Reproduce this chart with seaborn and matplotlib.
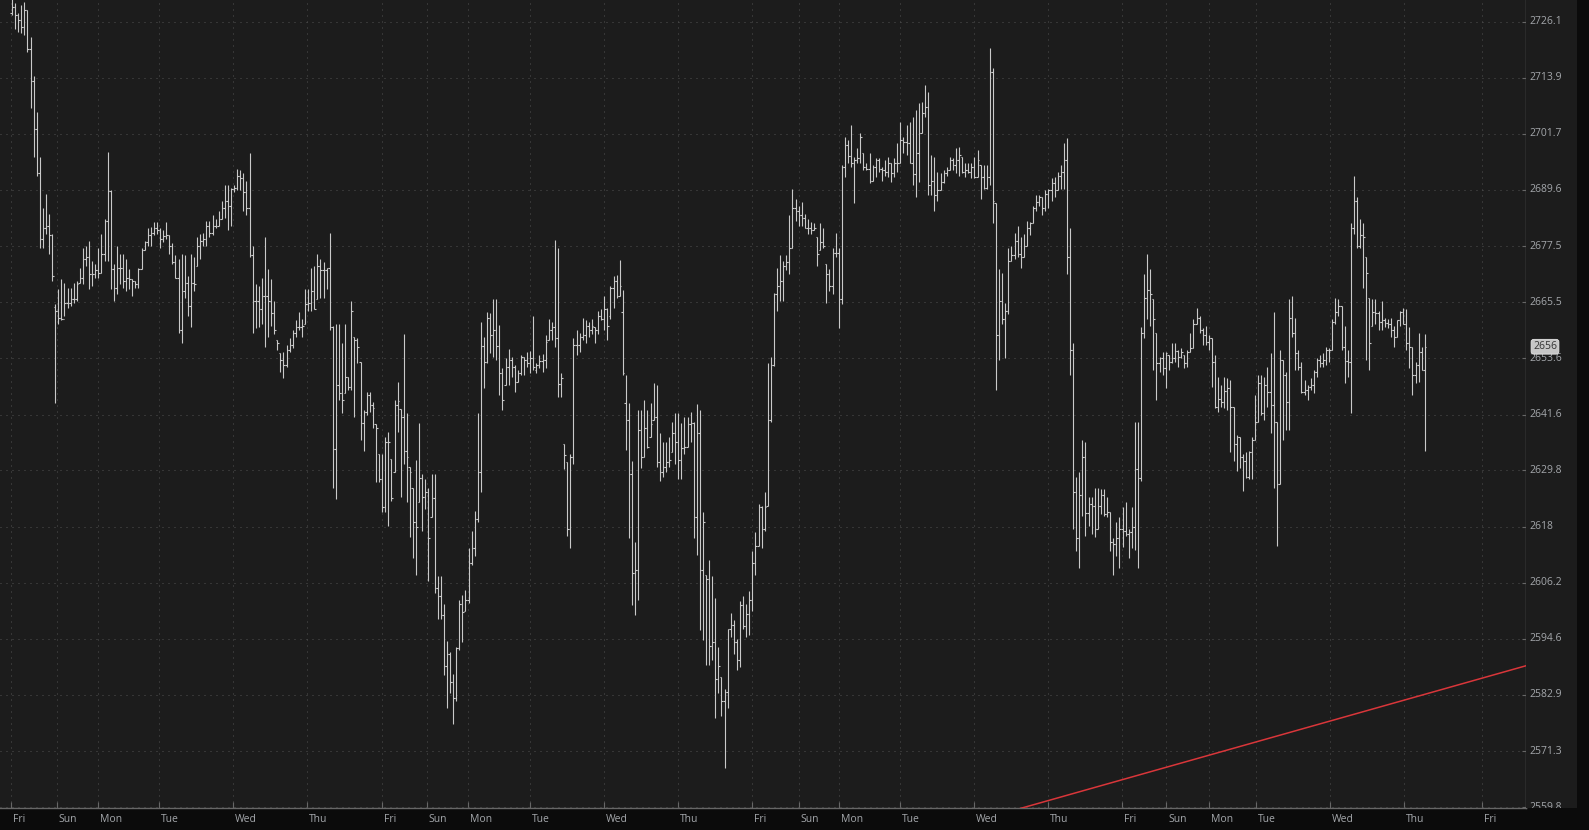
import matplotlib
matplotlib.use("Agg")
import matplotlib.pyplot as plt
import matplotlib.transforms as mtransforms
from matplotlib.ticker import FixedLocator, NullLocator, NullFormatter
import numpy as np
import seaborn as sns

# hourly OHLC bars
highs = [
    2733.0, 2730.1, 2728.0, 2729.7, 2730.4, 2728.6, 2722.7, 2714.2, 2706.4, 2696.6,
    2685.8, 2688.8, 2684.5, 2680.2, 2665.2, 2668.4, 2670.5, 2669.6, 2668.6, 2668.6,
    2669.6, 2670.1, 2672.9, 2677.0, 2677.6, 2678.7, 2674.4, 2673.7, 2677.0, 2680.2,
    2683.4, 2697.7, 2689.5, 2673.7, 2677.6, 2675.9, 2675.9, 2674.8, 2672.7, 2670.5,
    2670.1, 2672.9, 2677.2, 2678.7, 2681.5, 2681.7, 2682.6, 2682.6, 2681.5, 2680.9,
    2682.6, 2679.8, 2678.1, 2675.5, 2674.8, 2675.9, 2675.5, 2671.2, 2675.9, 2675.1,
    2679.4, 2680.2, 2680.4, 2683.0, 2683.0, 2684.1, 2683.4, 2685.1, 2687.3, 2690.6,
    2690.6, 2690.1, 2690.6, 2694.2, 2693.8, 2693.2, 2691.6, 2697.5, 2677.6, 2669.4,
    2669.0, 2670.7, 2679.4, 2672.7, 2670.5, 2665.8, 2657.4, 2654.6, 2654.8, 2656.3,
    2657.8, 2659.5, 2661.6, 2663.3, 2662.0, 2668.4, 2668.4, 2672.9, 2673.3, 2675.9,
    2674.8, 2674.0, 2672.9, 2680.4, 2660.5, 2660.9, 2660.9, 2656.7, 2660.9, 2649.6,
    2665.8, 2658.0, 2657.8, 2652.7, 2642.6, 2646.4, 2646.4, 2644.3, 2639.5, 2633.2,
    2633.2, 2636.9, 2638.0, 2632.3, 2644.7, 2648.5, 2642.8, 2658.8, 2642.0, 2630.6,
    2626.2, 2632.1, 2639.9, 2629.0, 2627.9, 2626.2, 2629.0, 2629.0, 2607.6, 2607.6,
    2601.7, 2594.1, 2591.8, 2587.3, 2592.9, 2602.7, 2603.7, 2604.8, 2613.4, 2617.1,
    2621.2, 2642.0, 2661.2, 2658.0, 2663.3, 2663.1, 2666.2, 2666.2, 2660.7, 2651.5,
    2653.6, 2655.5, 2653.8, 2652.1, 2651.0, 2654.2, 2653.8, 2654.8, 2655.0, 2662.6,
    2652.5, 2654.2, 2654.4, 2658.4, 2662.0, 2661.2, 2678.9, 2677.0, 2650.4, 2635.3,
    2631.5, 2633.2, 2657.8, 2659.5, 2659.0, 2662.2, 2661.6, 2661.2, 2662.0, 2660.1,
    2663.7, 2664.1, 2666.9, 2664.3, 2669.0, 2671.2, 2671.4, 2674.6, 2668.0, 2650.0,
    2644.1, 2631.7, 2614.8, 2642.6, 2642.6, 2644.7, 2642.6, 2644.1, 2648.3, 2647.9,
    2637.8, 2635.9, 2635.7, 2636.9, 2640.1, 2642.0, 2642.0, 2639.9, 2641.1, 2641.1,
    2642.2, 2640.0, 2643.9, 2642.6, 2621.0, 2607.9, 2611.0, 2607.6, 2603.1, 2592.9,
    2586.7, 2584.2, 2596.5, 2600.0, 2598.4, 2594.5, 2602.5, 2603.5, 2601.7, 2604.6,
    2612.8, 2616.9, 2622.7, 2622.3, 2625.2, 2652.5, 2653.8, 2667.5, 2672.9, 2675.5,
    2674.4, 2675.5, 2684.1, 2689.9, 2687.7, 2686.2, 2686.9, 2684.5, 2683.4, 2682.6,
    2682.4, 2679.4, 2682.4, 2681.5, 2673.7, 2672.7, 2677.0, 2680.4, 2677.2, 2694.9,
    2701.0, 2700.3, 2703.6, 2696.6, 2698.6, 2702.0, 2697.5, 2695.5, 2697.5, 2694.9,
    2696.4, 2696.4, 2694.5, 2696.0, 2696.6, 2695.5, 2696.4, 2699.7, 2704.2, 2701.0,
    2703.6, 2704.2, 2705.3, 2706.8, 2708.3, 2708.6, 2712.2, 2710.7, 2697.1, 2696.6,
    2693.4, 2693.2, 2693.8, 2694.5, 2696.6, 2696.4, 2698.6, 2698.8, 2696.6, 2695.3,
    2695.3, 2695.3, 2696.6, 2698.2, 2694.9, 2694.9, 2694.9, 2720.3, 2715.9, 2686.7,
    2672.7, 2671.8, 2665.4, 2677.2, 2677.6, 2680.4, 2681.9, 2679.4, 2680.2, 2683.0,
    2682.6, 2686.2, 2688.4, 2688.4, 2688.0, 2689.5, 2689.9, 2692.1, 2692.3, 2693.4,
    2694.9, 2699.7, 2700.8, 2681.5, 2656.7, 2628.5, 2629.4, 2636.3, 2635.9, 2624.1,
    2624.1, 2626.2, 2626.2, 2625.8, 2625.8, 2624.3, 2621.0, 2615.5, 2619.0, 2620.0,
    2622.1, 2623.1, 2617.5, 2622.1, 2640.1, 2640.1, 2660.1, 2671.6, 2675.9, 2672.7,
    2666.2, 2659.0, 2653.8, 2654.8, 2654.8, 2654.2, 2656.9, 2656.7, 2655.3, 2655.7,
    2654.2, 2655.3, 2659.0, 2662.0, 2664.3, 2662.6, 2659.9, 2660.5, 2658.4, 2657.8,
    2654.2, 2649.6, 2647.9, 2649.6, 2649.3, 2648.9, 2643.2, 2637.3, 2636.9, 2633.2,
    2633.6, 2633.8, 2636.9, 2645.8, 2650.0, 2650.0, 2649.6, 2651.7, 2654.6, 2663.3,
    2640.0, 2655.3, 2653.1, 2650.6, 2666.2, 2666.9, 2662.2, 2655.3, 2652.7, 2648.9,
    2647.9, 2649.3, 2651.0, 2653.6, 2654.2, 2654.6, 2655.9, 2655.7, 2662.0, 2666.4,
    2666.2, 2664.7, 2660.5, 2655.3, 2682.4, 2692.7, 2688.0, 2683.4, 2682.4, 2675.1,
    2666.4, 2666.2, 2666.2, 2663.7, 2665.8, 2662.2, 2662.0, 2662.2, 2660.5, 2661.6,
    2663.7, 2664.3, 2664.1, 2660.1, 2655.9, 2652.7, 2659.0, 2655.9, 2658.8,
]
lows = [
    2727.5, 2724.5, 2723.8, 2723.6, 2723.2, 2719.4, 2707.3, 2696.6, 2692.7, 2677.2,
    2677.0, 2680.2, 2675.9, 2670.1, 2644.1, 2660.9, 2661.6, 2662.6, 2664.3, 2664.7,
    2665.4, 2665.8, 2669.6, 2669.4, 2673.3, 2668.4, 2669.0, 2670.7, 2670.7, 2671.8,
    2674.4, 2674.4, 2668.4, 2665.8, 2667.3, 2669.4, 2668.6, 2667.9, 2668.4, 2666.9,
    2668.6, 2668.6, 2672.7, 2676.6, 2677.6, 2677.6, 2679.8, 2680.2, 2677.0, 2678.3,
    2679.1, 2675.9, 2673.7, 2670.7, 2659.0, 2656.7, 2666.4, 2662.6, 2660.1, 2667.9,
    2673.3, 2674.8, 2677.6, 2677.6, 2679.4, 2679.8, 2681.3, 2681.9, 2683.4, 2683.6,
    2680.9, 2681.9, 2689.1, 2689.5, 2689.5, 2685.1, 2684.1, 2675.1, 2659.0, 2659.9,
    2660.1, 2660.9, 2655.9, 2658.0, 2660.5, 2658.8, 2655.3, 2650.6, 2649.3, 2651.7,
    2654.8, 2655.7, 2658.0, 2659.5, 2658.0, 2660.9, 2663.7, 2663.7, 2664.1, 2666.2,
    2666.4, 2666.4, 2668.4, 2659.5, 2626.2, 2623.7, 2644.7, 2642.0, 2646.2, 2646.8,
    2646.8, 2641.1, 2652.5, 2636.3, 2633.8, 2641.6, 2642.2, 2638.8, 2627.3, 2627.3,
    2621.0, 2621.0, 2618.1, 2623.3, 2629.4, 2638.0, 2624.1, 2631.1, 2623.1, 2615.9,
    2611.4, 2607.9, 2623.1, 2617.1, 2621.6, 2606.6, 2620.0, 2604.1, 2598.6, 2598.6,
    2587.1, 2580.2, 2583.2, 2576.9, 2581.6, 2592.2, 2593.9, 2600.4, 2602.1, 2609.9,
    2611.8, 2619.0, 2625.2, 2647.2, 2652.5, 2654.6, 2653.8, 2653.1, 2645.8, 2642.6,
    2647.9, 2647.9, 2649.6, 2646.4, 2648.5, 2650.0, 2650.0, 2651.7, 2650.4, 2651.0,
    2650.4, 2651.5, 2650.6, 2651.5, 2657.4, 2657.4, 2655.9, 2645.4, 2645.4, 2630.0,
    2616.1, 2613.4, 2631.1, 2654.2, 2654.8, 2657.4, 2656.7, 2658.0, 2658.8, 2656.9,
    2658.8, 2661.6, 2659.5, 2657.4, 2662.0, 2664.3, 2666.4, 2666.9, 2650.0, 2634.2,
    2615.5, 2601.5, 2599.4, 2602.7, 2630.4, 2632.7, 2634.6, 2636.9, 2640.5, 2630.6,
    2627.5, 2628.5, 2629.4, 2630.6, 2633.6, 2631.1, 2627.9, 2627.9, 2633.2, 2634.8,
    2635.7, 2615.5, 2612.0, 2596.3, 2594.3, 2589.2, 2589.2, 2590.2, 2578.1, 2583.2,
    2578.5, 2567.8, 2580.2, 2594.9, 2591.4, 2588.1, 2588.7, 2596.5, 2594.9, 2595.3,
    2600.4, 2607.9, 2614.0, 2613.4, 2617.1, 2622.3, 2640.0, 2652.0, 2663.7, 2665.8,
    2665.8, 2672.3, 2671.6, 2677.0, 2683.0, 2681.9, 2681.9, 2681.3, 2680.2, 2680.2,
    2680.9, 2673.3, 2676.6, 2677.0, 2665.4, 2667.9, 2667.3, 2675.1, 2659.9, 2665.2,
    2692.3, 2695.3, 2694.5, 2686.7, 2695.3, 2695.5, 2693.8, 2693.8, 2691.0, 2691.6,
    2692.3, 2693.4, 2691.6, 2692.7, 2692.3, 2691.2, 2692.3, 2693.4, 2695.5, 2697.5,
    2697.1, 2695.3, 2690.6, 2688.0, 2691.2, 2701.8, 2705.3, 2688.4, 2688.4, 2685.1,
    2687.3, 2689.5, 2691.0, 2692.7, 2693.8, 2693.8, 2693.2, 2692.7, 2693.2, 2692.3,
    2693.2, 2692.1, 2692.1, 2692.3, 2687.7, 2689.9, 2689.9, 2690.6, 2682.4, 2646.8,
    2653.1, 2660.9, 2653.6, 2663.0, 2674.4, 2674.8, 2675.1, 2672.9, 2675.1, 2677.6,
    2679.8, 2682.4, 2685.1, 2686.2, 2684.1, 2685.1, 2685.6, 2687.3, 2688.0, 2689.5,
    2689.9, 2689.9, 2671.6, 2650.0, 2617.5, 2612.8, 2609.3, 2620.2, 2616.1, 2618.1,
    2616.5, 2615.9, 2617.5, 2620.6, 2620.2, 2620.0, 2612.8, 2607.9, 2611.8, 2609.3,
    2613.8, 2616.1, 2611.4, 2613.4, 2613.0, 2609.3, 2627.5, 2657.8, 2662.0, 2660.5,
    2651.0, 2644.7, 2650.6, 2650.0, 2647.2, 2651.0, 2652.5, 2652.7, 2651.7, 2653.6,
    2651.5, 2651.7, 2654.8, 2655.7, 2660.9, 2659.0, 2656.3, 2656.3, 2655.3, 2647.5,
    2643.0, 2642.2, 2643.2, 2643.0, 2642.6, 2633.6, 2631.7, 2629.6, 2630.4, 2625.4,
    2628.3, 2627.9, 2627.9, 2636.3, 2640.1, 2641.6, 2640.5, 2643.2, 2637.8, 2626.2,
    2614.0, 2626.9, 2636.3, 2638.4, 2638.4, 2658.0, 2651.0, 2651.0, 2646.2, 2645.8,
    2644.7, 2646.8, 2646.2, 2649.6, 2651.7, 2651.7, 2652.1, 2652.7, 2655.3, 2660.9,
    2662.6, 2655.3, 2648.3, 2649.6, 2642.0, 2680.2, 2677.2, 2677.2, 2668.6, 2653.1,
    2651.0, 2660.5, 2660.9, 2659.5, 2659.5, 2660.1, 2659.9, 2658.0, 2655.9, 2658.0,
    2660.5, 2660.9, 2655.3, 2651.5, 2645.8, 2648.3, 2648.5, 2651.0, 2633.8,
]
opens = [
    2728.0, 2729.3, 2727.5, 2726.4, 2724.9, 2728.6, 2720.1, 2713.1, 2702.7, 2693.2,
    2679.1, 2681.5, 2681.9, 2679.8, 2664.5, 2663.7, 2662.2, 2662.0, 2665.4, 2665.4,
    2666.2, 2666.2, 2669.6, 2670.7, 2674.8, 2675.1, 2671.6, 2671.6, 2672.3, 2671.8,
    2675.9, 2683.0, 2689.3, 2672.7, 2668.6, 2672.9, 2672.9, 2670.1, 2670.7, 2670.5,
    2670.1, 2669.4, 2672.7, 2676.6, 2678.3, 2679.8, 2680.4, 2681.3, 2680.9, 2679.1,
    2679.6, 2679.8, 2677.6, 2674.0, 2670.7, 2659.5, 2667.9, 2669.6, 2664.7, 2669.6,
    2673.3, 2677.6, 2678.7, 2679.1, 2681.9, 2680.4, 2681.9, 2681.9, 2683.4, 2685.6,
    2687.3, 2686.2, 2689.9, 2690.1, 2692.7, 2692.1, 2689.1, 2685.8, 2675.5, 2665.8,
    2665.8, 2664.1, 2666.9, 2666.9, 2665.8, 2663.1, 2657.4, 2654.6, 2653.1, 2652.1,
    2655.3, 2656.3, 2659.0, 2660.1, 2660.3, 2660.9, 2665.2, 2665.4, 2667.9, 2666.2,
    2673.3, 2672.3, 2672.3, 2672.9, 2660.1, 2634.4, 2647.9, 2646.2, 2646.2, 2649.6,
    2647.5, 2658.0, 2657.4, 2652.7, 2639.9, 2642.2, 2645.8, 2643.6, 2639.5, 2633.2,
    2627.9, 2622.1, 2635.7, 2632.3, 2629.4, 2643.6, 2642.8, 2641.1, 2634.0, 2630.6,
    2626.2, 2619.0, 2623.1, 2628.3, 2624.3, 2625.2, 2620.0, 2623.9, 2605.2, 2603.5,
    2599.6, 2588.9, 2591.4, 2585.5, 2582.2, 2592.6, 2601.7, 2600.4, 2602.7, 2610.3,
    2613.4, 2619.6, 2629.4, 2656.1, 2652.7, 2662.2, 2658.4, 2659.5, 2656.1, 2650.4,
    2647.9, 2651.7, 2653.1, 2651.7, 2648.5, 2650.4, 2653.8, 2653.1, 2652.5, 2653.6,
    2651.0, 2652.1, 2653.0, 2653.1, 2657.4, 2659.5, 2660.1, 2657.8, 2648.0, 2635.3,
    2631.5, 2617.5, 2632.7, 2656.3, 2656.3, 2658.0, 2658.4, 2660.5, 2659.5, 2660.1,
    2659.5, 2662.6, 2662.0, 2664.1, 2662.5, 2668.6, 2670.1, 2666.9, 2663.3, 2644.1,
    2640.5, 2629.0, 2608.3, 2608.9, 2638.4, 2632.7, 2638.8, 2636.9, 2640.5, 2641.1,
    2631.5, 2629.4, 2630.6, 2631.5, 2633.6, 2637.8, 2635.7, 2632.1, 2634.6, 2634.8,
    2639.5, 2639.9, 2620.0, 2637.8, 2608.9, 2607.9, 2607.0, 2593.1, 2593.9, 2586.3,
    2586.7, 2581.6, 2583.6, 2596.5, 2597.4, 2593.9, 2590.2, 2601.5, 2597.2, 2599.8,
    2602.7, 2610.3, 2614.0, 2622.1, 2617.5, 2622.3, 2640.5, 2652.1, 2667.3, 2669.0,
    2670.1, 2673.3, 2674.0, 2677.0, 2685.8, 2685.1, 2684.1, 2683.6, 2681.5, 2681.3,
    2680.9, 2679.4, 2676.6, 2678.3, 2673.7, 2671.6, 2669.0, 2676.1, 2676.1, 2666.2,
    2694.5, 2699.2, 2697.0, 2695.3, 2696.0, 2696.4, 2697.5, 2694.5, 2694.2, 2691.6,
    2694.5, 2696.0, 2694.2, 2693.8, 2693.4, 2695.5, 2693.2, 2695.3, 2695.5, 2700.3,
    2699.9, 2699.7, 2695.5, 2693.0, 2697.5, 2701.8, 2706.2, 2707.5, 2690.6, 2691.6,
    2688.4, 2689.5, 2691.2, 2693.2, 2693.8, 2696.0, 2695.0, 2696.0, 2696.6, 2693.4,
    2694.0, 2693.4, 2694.5, 2692.3, 2694.9, 2692.3, 2690.1, 2692.3, 2715.1, 2686.7,
    2658.4, 2665.8, 2662.0, 2663.7, 2674.4, 2675.5, 2678.7, 2675.9, 2675.1, 2677.6,
    2681.5, 2682.4, 2685.8, 2686.9, 2688.0, 2685.6, 2688.8, 2689.5, 2691.0, 2689.5,
    2692.7, 2693.5, 2696.0, 2675.1, 2655.3, 2625.2, 2615.5, 2624.7, 2632.7, 2620.8,
    2622.7, 2622.3, 2617.5, 2622.3, 2624.7, 2620.6, 2621.0, 2614.8, 2614.4, 2615.5,
    2617.5, 2617.1, 2616.5, 2616.9, 2617.9, 2630.0, 2628.3, 2659.0, 2666.4, 2668.0,
    2666.2, 2659.0, 2652.5, 2653.6, 2651.5, 2654.2, 2652.7, 2653.6, 2655.0, 2653.8,
    2654.2, 2652.5, 2654.8, 2655.7, 2660.9, 2662.2, 2659.5, 2658.4, 2657.0, 2657.8,
    2652.7, 2643.2, 2645.0, 2644.3, 2646.5, 2647.2, 2643.2, 2635.3, 2636.9, 2632.7,
    2631.7, 2628.5, 2633.6, 2636.3, 2640.1, 2648.3, 2642.0, 2647.9, 2646.4, 2643.6,
    2640.0, 2626.9, 2653.1, 2650.0, 2644.3, 2662.2, 2659.0, 2654.6, 2651.7, 2646.4,
    2646.8, 2647.5, 2647.9, 2650.6, 2653.1, 2652.5, 2653.1, 2655.3, 2655.3, 2661.2,
    2663.3, 2664.7, 2655.9, 2653.0, 2652.7, 2681.3, 2687.3, 2677.6, 2679.8, 2675.1,
    2666.4, 2660.5, 2663.3, 2663.1, 2661.2, 2661.6, 2661.0, 2660.9, 2659.5, 2658.0,
    2661.6, 2663.3, 2660.9, 2656.7, 2655.9, 2650.0, 2652.1, 2654.8, 2651.0,
]
closes = [
    2729.3, 2727.5, 2726.4, 2724.9, 2728.6, 2720.1, 2713.1, 2702.7, 2693.2, 2679.1,
    2681.5, 2681.9, 2679.8, 2671.2, 2663.7, 2662.2, 2662.0, 2665.4, 2665.4, 2666.2,
    2666.2, 2669.4, 2670.7, 2674.8, 2675.1, 2671.6, 2671.6, 2672.3, 2671.8, 2675.9,
    2683.0, 2689.3, 2672.7, 2668.6, 2672.9, 2672.9, 2670.1, 2670.7, 2670.5, 2670.1,
    2669.4, 2672.7, 2676.6, 2678.3, 2679.8, 2680.4, 2681.3, 2680.9, 2679.1, 2679.6,
    2679.8, 2677.6, 2674.0, 2670.7, 2659.5, 2667.9, 2669.6, 2664.7, 2669.6, 2669.4,
    2677.6, 2678.7, 2679.1, 2681.9, 2680.4, 2681.9, 2681.9, 2683.4, 2685.6, 2687.3,
    2686.2, 2689.9, 2690.1, 2692.7, 2692.1, 2689.1, 2685.8, 2675.5, 2665.8, 2665.8,
    2664.1, 2666.9, 2666.9, 2665.8, 2663.1, 2659.5, 2656.7, 2653.1, 2652.1, 2655.3,
    2656.3, 2659.0, 2660.1, 2660.3, 2660.5, 2665.2, 2665.4, 2667.9, 2664.1, 2673.3,
    2672.3, 2672.3, 2672.9, 2660.1, 2634.4, 2647.9, 2646.2, 2644.7, 2649.6, 2647.5,
    2663.7, 2657.4, 2655.9, 2639.9, 2642.2, 2645.8, 2643.6, 2643.0, 2638.8, 2627.9,
    2622.1, 2635.7, 2635.9, 2623.9, 2643.6, 2644.5, 2641.1, 2634.0, 2632.7, 2629.4,
    2619.0, 2617.9, 2628.3, 2624.3, 2625.2, 2615.5, 2623.9, 2605.2, 2603.5, 2599.6,
    2588.9, 2591.4, 2585.5, 2582.2, 2592.6, 2601.7, 2600.2, 2602.7, 2610.3, 2613.4,
    2619.6, 2629.4, 2656.1, 2652.7, 2662.2, 2658.4, 2659.5, 2656.1, 2650.4, 2644.7,
    2651.7, 2653.1, 2651.7, 2648.5, 2650.4, 2653.8, 2653.1, 2652.5, 2653.6, 2651.7,
    2652.1, 2653.0, 2653.1, 2657.0, 2659.5, 2660.1, 2657.8, 2648.0, 2649.3, 2633.0,
    2617.5, 2632.7, 2656.3, 2656.3, 2658.0, 2658.4, 2660.5, 2659.5, 2660.4, 2659.5,
    2662.6, 2662.0, 2664.1, 2660.5, 2668.6, 2670.1, 2666.9, 2669.0, 2650.4, 2640.5,
    2629.0, 2608.3, 2608.9, 2638.4, 2632.7, 2638.8, 2634.8, 2639.5, 2641.1, 2631.5,
    2629.4, 2630.6, 2631.5, 2632.1, 2637.8, 2635.7, 2632.1, 2634.6, 2634.8, 2639.5,
    2639.9, 2620.0, 2637.8, 2608.9, 2619.0, 2607.0, 2593.1, 2593.9, 2586.3, 2588.9,
    2581.6, 2583.6, 2596.5, 2597.4, 2593.9, 2590.2, 2601.5, 2597.2, 2599.8, 2602.7,
    2610.3, 2614.0, 2622.1, 2617.5, 2622.1, 2640.5, 2652.1, 2667.3, 2669.0, 2670.1,
    2673.3, 2674.0, 2677.0, 2685.8, 2685.1, 2684.1, 2683.6, 2681.5, 2681.3, 2680.9,
    2681.5, 2675.9, 2678.3, 2677.6, 2671.6, 2669.0, 2676.1, 2676.1, 2666.2, 2694.5,
    2699.2, 2697.0, 2695.3, 2696.0, 2696.4, 2701.0, 2694.5, 2694.2, 2691.6, 2694.5,
    2696.0, 2694.2, 2693.8, 2693.4, 2695.5, 2693.2, 2695.3, 2695.5, 2700.3, 2699.9,
    2699.7, 2695.5, 2693.0, 2697.5, 2701.8, 2706.2, 2707.5, 2690.6, 2691.6, 2688.4,
    2689.5, 2691.2, 2693.2, 2693.8, 2696.0, 2695.0, 2696.0, 2697.1, 2693.4, 2694.0,
    2693.4, 2694.5, 2692.3, 2696.0, 2692.3, 2690.1, 2692.3, 2715.1, 2687.3, 2658.4,
    2665.8, 2662.0, 2663.7, 2674.4, 2675.5, 2678.7, 2675.9, 2675.1, 2677.6, 2681.5,
    2682.4, 2685.8, 2686.9, 2688.0, 2685.6, 2688.8, 2689.5, 2691.0, 2689.5, 2692.7,
    2693.5, 2696.0, 2675.1, 2655.3, 2625.2, 2615.5, 2624.7, 2632.7, 2620.8, 2622.7,
    2622.3, 2617.5, 2622.3, 2624.7, 2620.6, 2621.0, 2614.8, 2614.4, 2615.5, 2617.5,
    2617.1, 2616.5, 2616.9, 2617.9, 2630.0, 2628.3, 2659.0, 2666.4, 2668.0, 2667.3,
    2662.0, 2652.5, 2653.6, 2651.5, 2654.6, 2652.7, 2653.6, 2655.0, 2653.8, 2654.8,
    2652.5, 2654.8, 2655.7, 2660.9, 2662.2, 2659.5, 2658.4, 2657.0, 2657.8, 2652.7,
    2643.2, 2645.0, 2644.3, 2646.5, 2647.2, 2643.2, 2635.3, 2636.9, 2632.7, 2631.7,
    2628.5, 2633.6, 2636.3, 2640.1, 2648.3, 2642.0, 2647.9, 2646.4, 2643.6, 2640.0,
    2626.9, 2653.1, 2650.0, 2644.3, 2662.2, 2659.0, 2654.6, 2651.7, 2646.4, 2646.8,
    2647.5, 2647.9, 2650.6, 2653.1, 2652.5, 2653.1, 2655.3, 2655.3, 2661.2, 2663.3,
    2664.7, 2655.9, 2653.0, 2652.7, 2681.3, 2687.3, 2677.6, 2679.8, 2679.4, 2671.8,
    2656.7, 2663.3, 2663.1, 2661.2, 2661.6, 2661.0, 2660.9, 2659.5, 2658.0, 2661.6,
    2663.3, 2660.9, 2656.7, 2655.9, 2650.0, 2652.1, 2654.8, 2651.0, 2655.9,
]

day_labels = ["Fri", "Sun", "Mon", "Tue", "Wed", "Thu", "Fri", "Sun", "Mon",
              "Tue", "Wed", "Thu", "Fri", "Sun", "Mon", "Tue", "Wed", "Thu",
              "Fri", "Sun", "Mon", "Tue", "Wed", "Thu", "Fri"]
# session starts, in bar units
day_pos = [-0.2, 14.5, 27.8, 47.8, 71.7, 95.7, 119.8, 134.5, 147.8, 167.9,
           191.9, 215.9, 239.9, 255.1, 268.1, 287.8, 311.8, 335.8, 359.8,
           374.1, 388.0, 403.2, 427.2, 451.2, 476.5]

price_ticks = [2559.8, 2571.3, 2582.9, 2594.6, 2606.2, 2618.0, 2629.8, 2641.6,
               2653.6, 2665.5, 2677.5, 2689.6, 2701.7, 2713.9, 2726.1]
last_price = 2656

# drawn trend line
trend_x = [320, 495]
trend_y = [2558.28, 2589.71]

BG = "#1c1c1c"
DARK = "#0b0b0b"
BAR = "#c9c9c9"
GRID = "#505050"
AXC = "#666666"
TXT = "#a4a7ab"

sns.set_style("dark", rc={"axes.facecolor": BG, "figure.facecolor": DARK})
plt.rcParams["font.family"] = ["Open Sans", "DejaVu Sans"]

W, H = 1589, 830
fig = plt.figure(figsize=(W / 100, H / 100), dpi=100, facecolor=DARK)
ax = fig.add_axes([0, 22 / H, 1526 / W, 808 / H])
ax_r = fig.add_axes([1526 / W, 22 / H, 51 / W, 808 / H])
ax.set_facecolor(BG)
ax_r.set_facecolor(BG)

x = np.arange(len(highs))
ax.vlines(x, lows, highs, color=BAR, lw=0.8, zorder=3)
ax.hlines(opens, x - 0.5, x, color=BAR, lw=0.8, zorder=3)
ax.hlines(closes, x, x + 0.5, color=BAR, lw=0.8, zorder=3)

sns.lineplot(x=trend_x, y=trend_y, ax=ax, color="#d9363a", lw=1.1, zorder=4)

ylo, yhi = 2559.6, 2730.85
for a in (ax, ax_r):
    a.set_yscale("log")
    a.set_ylim(ylo, yhi)
    a.yaxis.set_minor_locator(NullLocator())

ax.set_xlim(-3.89, 490.8)
ax.yaxis.set_major_locator(FixedLocator(price_ticks))
ax.yaxis.set_major_formatter(NullFormatter())
ax.set_xticks(day_pos)
ax.set_xticklabels(day_labels)
ax.set_xlabel("")
ax.set_ylabel("")

ax.grid(True, axis="both", color=GRID, linestyle=(0, (1, 5)), linewidth=0.72)
ax.tick_params(axis="y", left=False, right=True, labelleft=False,
               direction="in", length=3, width=0.8, color=AXC)
ax.tick_params(axis="x", bottom=True, direction="in", length=4, width=0.8,
               color=AXC, labelcolor=TXT, labelsize=7.5, pad=4)
offset = mtransforms.ScaledTranslation(2 / 100, 0, fig.dpi_scale_trans)
for lbl in ax.get_xticklabels():
    lbl.set_ha("left")
    lbl.set_transform(lbl.get_transform() + offset)

for side in ("top", "left"):
    ax.spines[side].set_visible(False)
for side in ("right", "bottom"):
    ax.spines[side].set_visible(True)
    ax.spines[side].set_color(AXC)
    ax.spines[side].set_linewidth(1.0)

# price scale panel
ax_r.set_xlim(0, 1)
ax_r.set_xticks([])
ax_r.set_yticks([])
for s in ax_r.spines.values():
    s.set_visible(False)
ytrans = ax_r.get_yaxis_transform()
for v in price_ticks:
    ax_r.text(3 / 51, v, f"{v:g}", transform=ytrans, ha="left", va="center",
              color=TXT, fontsize=7.5, clip_on=True)
ax_r.text(7 / 51, last_price, f"{last_price}", transform=ytrans, ha="left",
          va="center", color="#333333", fontsize=7.5, zorder=5,
          bbox=dict(boxstyle="round,pad=0.18,rounding_size=0.25",
                    fc="#c6c6c6", ec="#e4e4e4", lw=0.6))

fig.savefig("out.png", dpi=100, facecolor=fig.get_facecolor())
